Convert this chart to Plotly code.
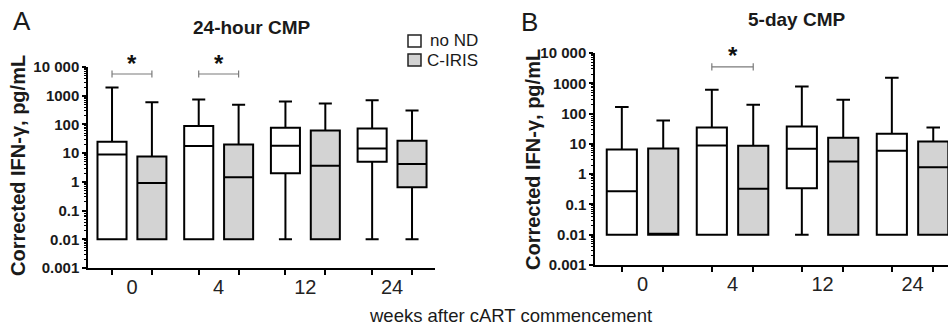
import numpy as np
import plotly.graph_objects as go

W, H = 948, 326

weeks = ["0", "4", "12", "24"]
group_names = ["no ND", "C-IRIS"]
group_fill = ["#ffffff", "#d3d3d3"]

# Panel A: 24-hour CMP  (pg/mL)
a_nond_lower = [0.01, 0.01, 0.01, 0.01]
a_nond_q1 = [0.01, 0.01, 2.0, 5.0]
a_nond_med = [9.0, 17.6, 18.0, 14.6]
a_nond_q3 = [25, 89, 76, 72]
a_nond_upper = [1950, 735, 627, 697]

a_ciris_lower = [0.01, 0.01, 0.01, 0.01]
a_ciris_q1 = [0.01, 0.01, 0.01, 0.65]
a_ciris_med = [0.92, 1.44, 3.66, 4.2]
a_ciris_q3 = [7.7, 20, 62, 27]
a_ciris_upper = [594, 480, 533, 305]

# Panel B: 5-day CMP (pg/mL)
b_nond_lower = [0.01, 0.01, 0.01, 0.01]
b_nond_q1 = [0.01, 0.01, 0.34, 0.01]
b_nond_med = [0.27, 8.8, 6.9, 5.9]
b_nond_q3 = [6.5, 35, 37.6, 21.5]
b_nond_upper = [164, 613, 790, 1530]

b_ciris_lower = [0.01, 0.01, 0.01, 0.01]
b_ciris_q1 = [0.01, 0.01, 0.01, 0.01]
b_ciris_med = [0.01, 0.33, 2.6, 1.7]
b_ciris_q3 = [7.0, 8.6, 15.8, 12]
b_ciris_upper = [59, 195, 286, 35]

# significance brackets (week, bracket level pg/mL, star level pg/mL)
a_sig_weeks = ["0", "4"]
a_sig_level = 5700
a_star_level = 13000
b_sig_weeks = ["4"]
b_sig_level = 3500
b_star_level = 8000

panel_titles = ["24-hour CMP", "5-day CMP"]
panel_letters = ["A", "B"]
y_title = "Corrected IFN-γ, pg/mL"
x_title = "weeks after cART commencement"

FONT = "Arial, 'Liberation Sans', sans-serif"
OFFSET = 0.23
BOXW = 0.335
YLOG_RANGE = [-3, 4]

def px_x(p):
    return p / W

def px_y(p):
    return 1 - p / H

fig = go.Figure()
annotations = []

panels = [
    dict(xa="x", ya="y",
         stats=[(a_nond_lower, a_nond_q1, a_nond_med, a_nond_q3, a_nond_upper),
                (a_ciris_lower, a_ciris_q1, a_ciris_med, a_ciris_q3, a_ciris_upper)],
         sig=a_sig_weeks, level=a_sig_level, star=a_star_level),
    dict(xa="x2", ya="y2",
         stats=[(b_nond_lower, b_nond_q1, b_nond_med, b_nond_q3, b_nond_upper),
                (b_ciris_lower, b_ciris_q1, b_ciris_med, b_ciris_q3, b_ciris_upper)],
         sig=b_sig_weeks, level=b_sig_level, star=b_star_level),
]

idx = np.arange(len(weeks))
for p in panels:
    for g, (lo, q1, md, q3, up) in enumerate(p["stats"]):
        pos = idx + (-OFFSET if g == 0 else OFFSET)
        fig.add_trace(go.Box(
            x=pos, lowerfence=lo, q1=q1, median=md, q3=q3, upperfence=up,
            width=BOXW, whiskerwidth=0.45, boxpoints=False,
            fillcolor=group_fill[g], line=dict(color="black", width=2),
            name=group_names[g], showlegend=False, hoverinfo="skip",
            xaxis=p["xa"], yaxis=p["ya"]))
    # significance brackets and stars
    for wk in p["sig"]:
        i = weeks.index(wk)
        x1, x2 = i - OFFSET, i + OFFSET
        lv = p["level"]
        f = 10 ** 0.12
        fig.add_trace(go.Scatter(
            x=[x1, x2, None, x1, x1, None, x2, x2],
            y=[lv, lv, None, lv / f, lv * f, None, lv / f, lv * f],
            mode="lines", line=dict(color="#7a7a7a", width=1.2),
            showlegend=False, hoverinfo="skip",
            xaxis=p["xa"], yaxis=p["ya"], cliponaxis=False))
        # star: x in data units, y in axis-domain units (log scale)
        ydom = (np.log10(p["star"]) - YLOG_RANGE[0]) / (YLOG_RANGE[1] - YLOG_RANGE[0])
        annotations.append(dict(
            x=i, y=ydom, xref=p["xa"], yref=p["ya"] + " domain", text="*",
            showarrow=False, xanchor="center", yanchor="middle",
            font=dict(family=FONT, size=24, color="#111", weight="bold")))

minor_pos = sorted(list(idx - OFFSET) + list(idx + OFFSET))

def xaxis_cfg(domain, rng, anchor):
    return dict(domain=domain, range=rng, anchor=anchor, automargin=False,
                showline=True, linecolor="black",
                linewidth=1.5, showgrid=False, zeroline=False,
                tickmode="array", tickvals=list(idx), ticktext=weeks,
                ticks="", ticklen=0, ticklabelstandoff=0,
                tickfont=dict(family=FONT, size=20, color="#222"),
                minor=dict(tickmode="array", tickvals=minor_pos, ticks="outside",
                           ticklen=5, tickwidth=1.5, tickcolor="black"))

def yaxis_cfg(domain, anchor):
    return dict(domain=domain, type="log", range=YLOG_RANGE, anchor=anchor,
                automargin=False,
                showline=True, linecolor="black", linewidth=1.5,
                showgrid=False, zeroline=False, dtick=1, tick0=0,
                exponentformat="none", ticks="outside", ticklen=4,
                tickwidth=1.5, tickcolor="black",
                tickfont=dict(family=FONT, size=15, color="#1a1a1a", weight="bold"),
                minor=dict(ticks="outside", ticklen=2.5, dtick="D1",
                           tickcolor="black", tickwidth=1))

def ann(x, y, text, size, bold=False, angle=0, xanchor="center"):
    annotations.append(dict(
        x=px_x(x), y=px_y(y), xref="paper", yref="paper", text=text,
        showarrow=False, xanchor=xanchor, yanchor="middle", textangle=angle,
        font=dict(family=FONT, size=size, color="#1a1a1a",
                  weight="bold" if bold else "normal")))

ann(252, 28, panel_titles[0], 19, bold=True)
ann(796, 20, panel_titles[1], 19, bold=True)
ann(22, 21, panel_letters[0], 26)
ann(529, 22, panel_letters[1], 26)
ann(18, 166, y_title, 20, bold=True, angle=-90)
ann(533, 160, y_title, 20, bold=True, angle=-90)
ann(510, 315, x_title, 18.5)

# legend
shapes = []
for g, (sy0, sy1, ty, tx) in enumerate([(35, 47, 41, 428), (54, 66, 60, 425)]):
    shapes.append(dict(type="rect", xref="paper", yref="paper",
                       x0=px_x(408), x1=px_x(421), y0=px_y(sy1), y1=px_y(sy0),
                       fillcolor=group_fill[g], line=dict(color="#222", width=1.5)))
    ann(tx, ty, group_names[g], 17, xanchor="left")

fig.update_layout(
    width=W, height=H, margin=dict(l=0, r=0, t=0, b=0, autoexpand=False),
    paper_bgcolor="white", plot_bgcolor="white",
    separators=". ", boxmode="overlay", showlegend=False,
    xaxis=xaxis_cfg([px_x(88), px_x(435)], [-0.507, 3.495], "y"),
    yaxis=yaxis_cfg([px_y(268), px_y(67)], "x"),
    xaxis2=xaxis_cfg([px_x(595), 1.0], [-0.528, 3.394], "y2"),
    yaxis2=yaxis_cfg([px_y(265), px_y(53)], "x2"),
    annotations=annotations, shapes=shapes,
)

fig.write_html("out.html")
